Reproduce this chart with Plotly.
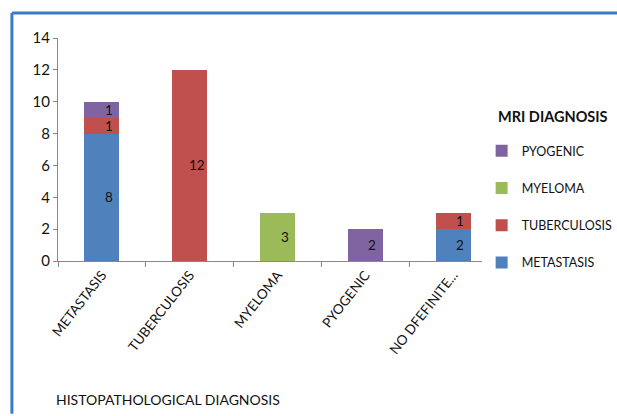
import plotly.graph_objects as go

# Histopathological diagnosis (x) broken down by MRI diagnosis (stacked)
categories = ["METASTASIS", "TUBERCULOSIS", "MYELOMA", "PYOGENIC", "NO DFEFINITE..."]
metastasis = [8, 0, 0, 0, 2]
tuberculosis = [1, 12, 0, 0, 1]
myeloma = [0, 0, 3, 0, 0]
pyogenic = [1, 0, 0, 2, 0]

series = [
    ("METASTASIS", metastasis, "#4f81bd", 4),
    ("TUBERCULOSIS", tuberculosis, "#c0504d", 3),
    ("MYELOMA", myeloma, "#9bbb59", 2),
    ("PYOGENIC", pyogenic, "#8064a2", 1),
]

FONT = "Lato, Open Sans, sans-serif"

fig = go.Figure()
base = [0] * len(categories)
annotations = []
for name, vals, color, rank in series:
    fig.add_trace(go.Bar(
        x=categories, y=vals, name=name, marker=dict(color=color, line=dict(width=0)),
        legendgroup=name, legendrank=rank,
    ))
    for i, v in enumerate(vals):
        if v > 0:
            annotations.append(dict(
                x=categories[i], y=base[i] + v / 2, text=str(v), showarrow=False,
                xshift=7, font=dict(size=13.5, color="#111111", family=FONT),
            ))
        base[i] += v

# Axis title under the category labels
annotations.append(dict(
    xref="paper", yref="paper", x=-0.01, y=-0.62, xanchor="left", yanchor="middle",
    text="HISTOPATHOLOGICAL DIAGNOSIS", showarrow=False,
    font=dict(size=14, color="#111111", family=FONT),
))
# Legend heading
annotations.append(dict(
    xref="paper", yref="paper", x=0.998, y=0.650, xanchor="left", yanchor="middle",
    text="<b>MRI DIAGNOSIS</b>", showarrow=False,
    font=dict(size=14.5, color="#111111", family=FONT),
))

# Frame around the chart (left and top edges)
border = dict(color="#3a7bc8", width=3)
shapes = [
    dict(type="line", xref="paper", yref="paper", x0=-0.105, x1=-0.105, y0=-0.685, y1=1.112, line=border),
    dict(type="line", xref="paper", yref="paper", x0=-0.105, x1=1.30, y0=1.112, y1=1.112, line=border),
]

fig.update_layout(
    width=617, height=416,
    margin=dict(l=58, r=120, t=38, b=155, autoexpand=False),
    paper_bgcolor="white", plot_bgcolor="white",
    barmode="stack", bargap=0.6,
    font=dict(family=FONT, size=13, color="#111111"),
    showlegend=True,
    legend=dict(
        x=0.965, xanchor="left", y=0.56, yanchor="top",
        traceorder="grouped", tracegroupgap=18,
        font=dict(size=12.5, family=FONT), itemwidth=30,
    ),
    xaxis=dict(
        type="category", tickangle=-52, tickson="boundaries",
        ticks="outside", ticklen=5, tickcolor="#888888",
        showline=True, linecolor="#888888", linewidth=1,
        tickfont=dict(size=13.5, family=FONT),
    ),
    yaxis=dict(
        range=[0, 14], dtick=2, showgrid=False, zeroline=False,
        ticks="outside", ticklen=4, tickcolor="#888888",
        showline=True, linecolor="#888888", linewidth=1,
        tickfont=dict(size=15, family=FONT),
    ),
    annotations=annotations,
    shapes=shapes,
)

fig.write_html("out.html")
